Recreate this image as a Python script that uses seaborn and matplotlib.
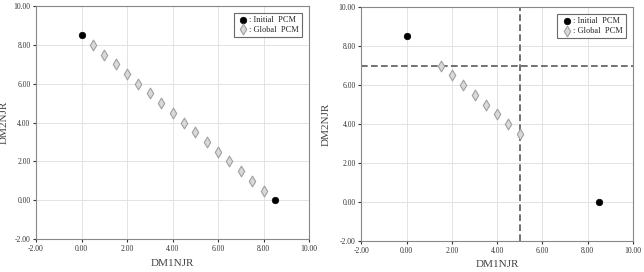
import numpy as np
import pandas as pd
import matplotlib.pyplot as plt
import seaborn as sns

# initial PCM points (same in both panels)
init_x = [0.0, 8.5]
init_y = [8.5, 0.0]

# global PCM, left panel
left_x = [0.5, 1.0, 1.5, 2.0, 2.5, 3.0, 3.5, 4.0, 4.5, 5.0, 5.5, 6.0, 6.5, 7.0, 7.5, 8.0]
left_y = [8.0, 7.5, 7.0, 6.5, 6.0, 5.5, 5.0, 4.5, 4.0, 3.5, 3.0, 2.5, 2.0, 1.5, 1.0, 0.5]

# global PCM, right panel
right_x = [1.5, 2.0, 2.5, 3.0, 3.5, 4.0, 4.5, 5.0]
right_y = [7.0, 6.5, 6.0, 5.5, 5.0, 4.5, 4.0, 3.5]

# threshold lines in right panel
thr_x = 5.0
thr_y = 7.0

ticks = [-2, 0, 2, 4, 6, 8, 10]
tick_labels = ["-2.00", "0.00", "2.00", "4.00", "6.00", "8.00", "10.00"]

sns.set_style("whitegrid")
plt.rcParams['font.family'] = ['Liberation Serif', 'DejaVu Serif']

fig = plt.figure(figsize=(6.44, 2.72), dpi=100)
ax1 = fig.add_axes([0.056, 0.121, 0.424, 0.857])
ax2 = fig.add_axes([0.561, 0.114, 0.422, 0.860])


def draw(ax, gx, gy, ylab_x, xlab_y):
    init = pd.DataFrame({"x": init_x, "y": init_y})
    glob = pd.DataFrame({"x": gx, "y": gy})
    sns.scatterplot(data=glob, x="x", y="y", ax=ax, marker="d", s=30,
                    color="#d9d9d9", edgecolor="#a0a0a0", linewidth=0.8,
                    label=": Global  PCM", zorder=3)
    sns.scatterplot(data=init, x="x", y="y", ax=ax, marker="o", s=22,
                    color="black", edgecolor="black", linewidth=0.5,
                    label=": Initial  PCM", zorder=4)
    ax.set_xlim(-2, 10)
    ax.set_ylim(-2, 10)
    ax.set_xticks(ticks)
    ax.set_xticklabels(tick_labels)
    ax.set_yticks(ticks)
    ax.set_yticklabels(tick_labels)
    ax.tick_params(labelsize=5.5, colors="#333333", length=2, pad=2)
    ax.tick_params(axis="x", bottom=True)
    ax.tick_params(axis="y", left=True)
    ax.grid(color="#e3e3e3", linewidth=0.7)
    for sp in ax.spines.values():
        sp.set_color("#888888")
        sp.set_linewidth(0.8)
    ax.set_xlabel("DM1NJR", fontsize=8, color="#444444")
    ax.set_ylabel("DM2NJR", fontsize=8, color="#444444")
    ax.yaxis.set_label_coords(ylab_x, 0.5)
    ax.xaxis.set_label_coords(0.5, xlab_y)
    handles, labels = ax.get_legend_handles_labels()
    leg = ax.legend(handles[::-1], labels[::-1], loc="upper right",
                    fontsize=6, frameon=True, fancybox=False,
                    borderpad=0.4, handletextpad=0.0, labelspacing=0.2,
                    handlelength=1.5, borderaxespad=0.8)
    leg.get_frame().set_edgecolor("#444444")
    leg.get_frame().set_linewidth(0.8)


draw(ax1, left_x, left_y, -0.10, -0.085)
draw(ax2, right_x, right_y, -0.112, -0.08)
ax2.axvline(thr_x, color="#5a5a5a", linestyle=(0, (4, 2)), linewidth=1.2, zorder=2)
ax2.axhline(thr_y, color="#5a5a5a", linestyle=(0, (4, 2)), linewidth=1.2, zorder=2)

fig.savefig("out.png", dpi=100)
